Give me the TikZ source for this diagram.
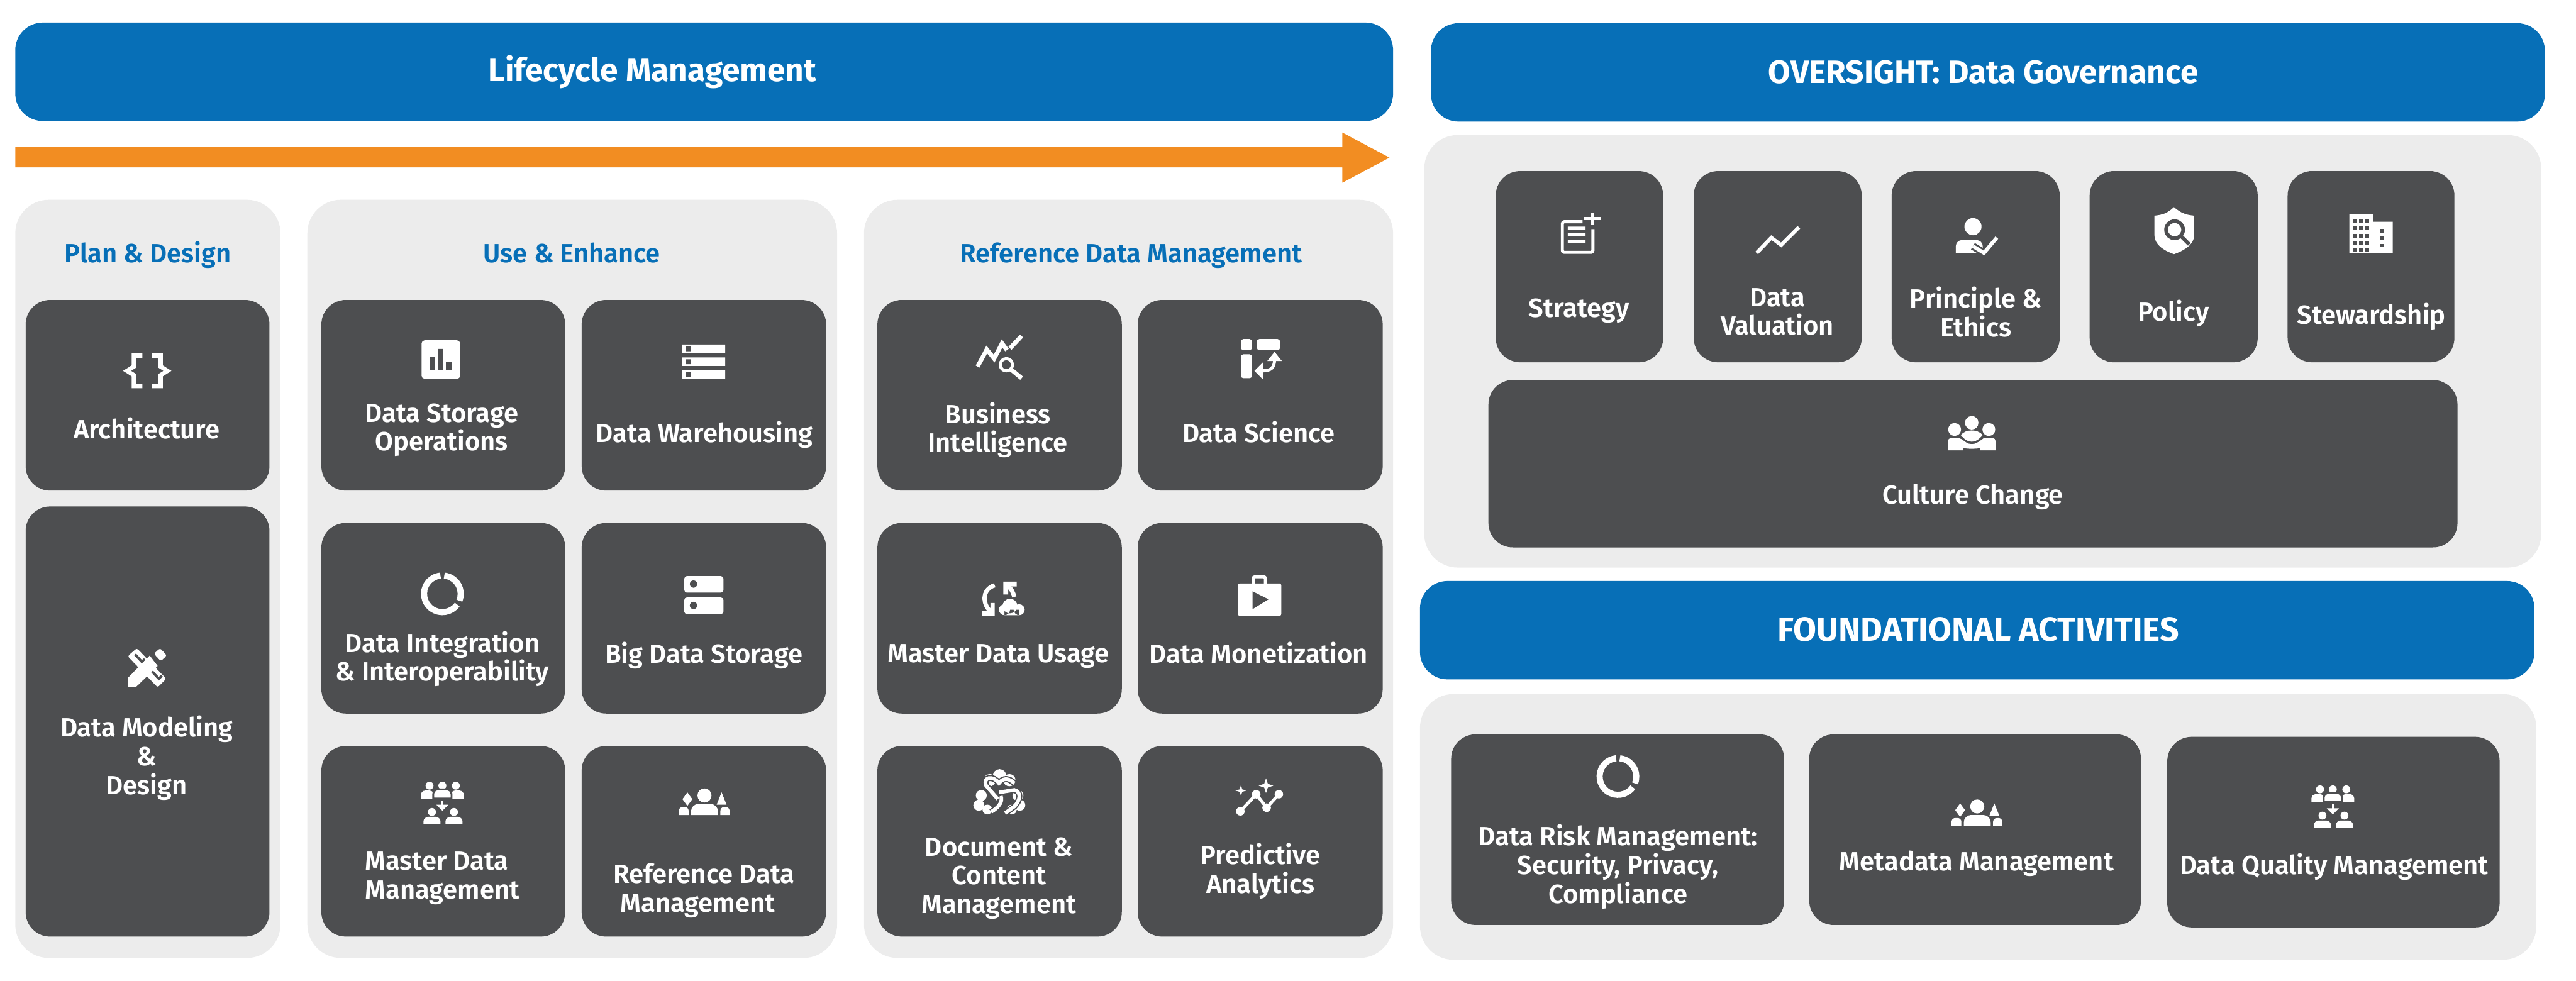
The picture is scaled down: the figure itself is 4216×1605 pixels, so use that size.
\documentclass[tikz,border=0pt]{standalone}
\usepackage{fontspec}
\setmainfont{Fira Sans SemiBold}
\newfontfamily\barfont{Fira Sans Bold}
\definecolor{barblue}{HTML}{076FB7}
\definecolor{arroworange}{HTML}{F28D22}
\definecolor{panelgray}{HTML}{ECECEC}
\definecolor{cardgray}{HTML}{4D4E50}
\tikzset{
  barbox/.style={fill=barblue, rounded corners=45pt},
  panelbox/.style={fill=panelgray, rounded corners=55pt},
  cardbox/.style={fill=cardgray, rounded corners=40pt},
  cardtext/.style={white, align=center, inner sep=0pt, yshift=-5pt, font=\fontsize{43}{47}\selectfont,
    execute at begin node=\strut, execute at end node=\strut},
  bartext/.style={white, inner sep=0pt, yshift=-5pt, font=\barfont\fontsize{53}{56}\selectfont, execute at begin node=\strut},
  headtext/.style={barblue, inner sep=0pt, yshift=-5pt, font=\fontsize{43}{47}\selectfont, execute at begin node=\strut},
  iconline/.style={draw=white, line width=7pt},
  % repeated icons
  ringicon/.pic={
    \draw[white, line width=10pt] (-84:30) arc (-84:22:30);
    \draw[white, line width=10pt] (36:30) arc (36:264:30);
  },
  peopleflow/.pic={
    \fill[white] (-21,7) circle (6.5) (0,7) circle (6.5) (22,7) circle (6.5);
    \fill[white] (-35,28) [rounded corners=7pt] -- (-35,15) -- (-14,15) [sharp corners] -- (-14,28) -- cycle;
    \fill[white] (14,28) [rounded corners=7pt] -- (14,15) -- (35,15) [sharp corners] -- (35,28) -- cycle;
    \fill[white, draw=cardgray, line width=3pt] (-15,28) [rounded corners=8pt] -- (-15,13) -- (15,13) [sharp corners] -- (15,28) -- cycle;
    \draw[white, line width=3pt] (0,31) -- (0,40);
    \fill[white] (-10,38) -- (10,38) -- (0,48) -- cycle;
    \fill[white] (-17,50) circle (6.5) (19,50) circle (6.5);
    \fill[white] (-31,70) [rounded corners=8pt] -- (-31,58) -- (-3,58) [sharp corners] -- (-3,70) -- cycle;
    \fill[white] (5,70) [rounded corners=8pt] -- (5,58) -- (33,58) [sharp corners] -- (33,70) -- cycle;
  },
  peopletrio/.pic={
    \fill[white] (0,-32) circle (11.5);
    \fill[white] (-22,0) [rounded corners=12pt] -- (-22,-18) -- (22,-18) [sharp corners] -- (22,0) -- cycle;
    \fill[white] (-28,-37) -- (-20,-26) -- (-28,-15) -- (-36,-26) -- cycle;
    \fill[white] (28,-37) -- (36,-17) -- (20,-17) -- cycle;
    \fill[white] (-42,0) [rounded corners=6pt] -- (-42,-13) -- (-26,-13) [sharp corners] -- (-26,0) -- cycle;
    \fill[white] (26,0) [rounded corners=6pt] -- (26,-13) -- (41,-13) [sharp corners] -- (41,0) -- cycle;
  },
}
\begin{document}
\begin{tikzpicture}[x=1pt, y=-1pt]
    \useasboundingbox (0,0) rectangle (4216,1605);
    % header bars
    \fill[barbox] (25,37) rectangle (2280,198);
    \node[bartext] (lifecycle) at (1068,115) {Lifecycle Management};
    \fill[barbox] (2342,38) rectangle (4165,199);
    \node[bartext] (oversight) at (3246,120) {OVERSIGHT: Data Governance};
    \fill[barbox] (2324,951) rectangle (4148,1112);
    \node[bartext, font=\barfont\fontsize{55}{56}\selectfont] (foundational) at (3238,1033) {FOUNDATIONAL ACTIVITIES};
    % lifecycle arrow
    \fill[arroworange] (25,241) -- (2197,241) -- (2197,217) -- (2274,258) -- (2197,299) -- (2197,274) -- (25,274) -- cycle;
    % grey panels
    \fill[panelbox] (25,327) rectangle (459,1568);
    \fill[panelbox] (503,327) rectangle (1370,1568);
    \fill[panelbox] (1414,327) rectangle (2280,1568);
    \fill[panelbox] (2331,221) rectangle (4159,929);
    \fill[panelbox] (2324,1136) rectangle (4151,1571);
    \node[headtext] (plan) at (242,415) {Plan \& Design};
    \node[headtext] (use) at (936,415) {Use \& Enhance};
    \node[headtext] (reference) at (1851,415) {Reference Data Management};
    % plan & design cards
    \fill[cardbox] (42,491) rectangle (441,803);
    \node[cardtext] (architecture) at (240,703) {Architecture};
    \draw[iconline] (233,582) -- (219,582) -- (219,600) -- (208,607) -- (219,614) -- (219,632) -- (233,632);
    \draw[iconline] (249,582) -- (263,582) -- (263,600) -- (274,607) -- (263,614) -- (263,632) -- (249,632);
    \fill[cardbox] (42,829) rectangle (441,1533);
    \node[cardtext] (modeling) at (240,1238) {Data Modeling\\\&\\Design};
    \fill[white, rounded corners=3pt] (209,1074) -- (224,1061) -- (272,1111) -- (258,1125) -- cycle;
    \draw[cardgray, line width=4pt] (221,1071) -- (232,1083) -- (237,1079);
    \draw[cardgray, line width=4pt] (248,1098) -- (260,1111) -- (265,1106);
    \fill[white] (209,1110) -- (209,1124) -- (223,1124) -- (258,1090) -- (245,1073) -- cycle;
    \fill[white, rounded corners=3pt] (252,1070) -- (262,1061) -- (273,1073) -- (263,1082) -- cycle;
    % use & enhance cards
    \fill[cardbox] (526,491) rectangle (925,803);
    \node[cardtext] (storage) at (723,701) {Data Storage\\Operations};
    \fill[white, rounded corners=5pt] (690,557) rectangle (753,620);
    \fill[cardgray] (704,584) rectangle (711,606) (717,571) rectangle (725,606) (730,592) rectangle (739,606);
    \fill[cardbox] (952,491) rectangle (1352,803);
    \node[cardtext] (warehousing) at (1153,709) {Data Warehousing};
    \fill[white] (1117,564) rectangle (1187,578) (1117,585) rectangle (1187,599) (1117,606) rectangle (1187,620);
    \fill[cardgray] (1123,567) rectangle (1131,575) (1123,588) rectangle (1131,596) (1123,609) rectangle (1131,617);
    \fill[cardbox] (526,856) rectangle (925,1168);
    \node[cardtext] (integration) at (724,1076) {Data Integration\\\& Interoperability};
    \pic (ringa) at (724,972) {ringicon};
    \fill[cardbox] (952,856) rectangle (1352,1168);
    \node[cardtext] (bigdata) at (1152,1070) {Big Data Storage};
    \fill[white, rounded corners=4pt] (1120,943) rectangle (1184,970) (1120,978) rectangle (1184,1005);
    \fill[cardgray] (1135,956) circle (6) (1135,991) circle (6);
    \fill[cardbox] (526,1221) rectangle (925,1533);
    \node[cardtext] (master) at (724,1435) {Master Data\kern18pt\\Management};
    \pic (flowa) at (724,1279) {peopleflow};
    \fill[cardbox] (952,1221) rectangle (1352,1533);
    \node[cardtext] (refmgmt) at (1152,1455) {Reference Data\\Management\kern20pt};
    \pic (trioa) at (1153,1334) {peopletrio};
    % reference data management cards
    \fill[cardbox] (1436,491) rectangle (1836,803);
    \node[cardtext] (business) at (1633,701) {Business\\Intelligence};
    \draw[iconline] (1600,600) -- (1615,572) -- (1627,587) -- (1640,562) -- (1648,573);
    \draw[iconline] (1653,570) -- (1672,550);
    \fill[cardgray] (1647,597) circle (16);
    \draw[iconline, line width=5pt] (1647,597) circle (10);
    \draw[iconline] (1655,605) -- (1672,619);
    \fill[cardbox] (1862,491) rectangle (2263,803);
    \node[cardtext] (science) at (2060,709) {Data Science};
    \fill[white, rounded corners=4pt] (2031,555) rectangle (2049,573) (2057,555) rectangle (2095,573) (2031,580) rectangle (2049,619);
    \draw[iconline, line width=5pt] (2086,588) .. controls (2086,602) and (2080,607) .. (2066,607);
    \fill[white] (2086,576) -- (2098,591) -- (2074,591) -- cycle;
    \fill[white] (2053,607) -- (2067,593) -- (2067,621) -- cycle;
    \fill[cardbox] (1436,856) rectangle (1836,1168);
    \node[cardtext] (usage) at (1634,1070) {Master Data Usage};
    \draw[iconline] (1628,958) .. controls (1605,965) and (1608,992) .. (1624,1003);
    \fill[white] (1607,1000) -- (1621,1000) -- (1621,987) -- (1628,987) -- (1628,1008) -- (1607,1008) -- cycle;
    \draw[iconline] (1647,957) .. controls (1655,963) and (1658,969) .. (1660,977);
    \fill[white] (1642,952) -- (1664,952) -- (1664,960) -- (1650,960) -- (1650,973) -- (1642,973) -- cycle;
    \fill[white] (1653,992) circle (12) (1644,998) circle (9) (1668,998) circle (9) (1644,998) rectangle (1668,1007);
    \fill[cardbox] (1862,856) rectangle (2263,1168);
    \node[cardtext] (monetization) at (2060,1070) {Data Monetization};
    \fill[white, rounded corners=3pt] (2026,955) rectangle (2097,1008);
    \draw[iconline, line width=5pt, rounded corners=3pt] (2051,956) -- (2051,944) -- (2071,944) -- (2071,956);
    \fill[cardgray] (2050,968) -- (2076,981) -- (2050,997) -- cycle;
    \fill[cardbox] (1436,1221) rectangle (1836,1533);
    \node[cardtext] (document) at (1635,1435) {Document \&\\Content\\Management};
    \fill[white] (1636,1270) circle (11) (1602,1318) circle (9) (1669,1318) circle (9) (1620,1277) circle (10) (1652,1277) circle (10) (1606,1302) circle (9) (1666,1302) circle (9) (1616,1325) circle (8) (1656,1325) circle (8);
    \draw[cardgray, line width=10pt] (1622,1329) .. controls (1634,1322) and (1642,1312) .. (1638,1303);
    \draw[white, line width=6pt] (1622,1329) .. controls (1634,1322) and (1642,1312) .. (1638,1303);
    \draw[cardgray, line width=10pt] (1635,1297) -- (1660,1293) .. controls (1672,1296) and (1670,1310) .. (1660,1320) -- (1645,1331);
    \draw[white, line width=6pt] (1635,1297) -- (1660,1293) .. controls (1672,1296) and (1670,1310) .. (1660,1320) -- (1645,1331);
    \draw[cardgray, line width=10pt] (1633,1308) -- (1614,1286) .. controls (1608,1272) and (1625,1268) .. (1635,1282) .. controls (1642,1272) and (1652,1274) .. (1660,1282);
    \draw[white, line width=6pt] (1633,1308) -- (1614,1286) .. controls (1608,1272) and (1625,1268) .. (1635,1282) .. controls (1642,1272) and (1652,1274) .. (1660,1282);
    \fill[cardbox] (1862,1221) rectangle (2263,1533);
    \node[cardtext] (predictive) at (2063,1423) {Predictive\\Analytics};
    \draw[iconline, line width=5pt] (2030,1328) -- (2056,1300) -- (2073,1322) -- (2093,1300);
    \fill[white] (2030,1328) circle (7) (2056,1300) circle (7) (2073,1322) circle (7) (2093,1300) circle (7);
    \fill[white] (2072,1274) -- (2075,1283) -- (2084,1286) -- (2075,1289) -- (2072,1298) -- (2069,1289) -- (2060,1286) -- (2069,1283) -- cycle;
    \fill[white] (2031,1285) -- (2033,1292) -- (2040,1294) -- (2033,1296) -- (2031,1303) -- (2029,1296) -- (2022,1294) -- (2029,1292) -- cycle;
    % oversight cards
    \fill[cardbox] (2448,280) rectangle (2722,593);
    \node[cardtext] (strategy) at (2584,505) {Strategy};
    \draw[iconline, line width=5pt, rounded corners=3pt] (2590,363) -- (2557,363) -- (2557,413) -- (2607,413) -- (2607,375);
    \fill[white] (2566,371) rectangle (2595,376) (2566,382) rectangle (2595,387) (2566,393) rectangle (2595,398);
    \draw[iconline, line width=5pt] (2593,358) -- (2620,358) (2606,349) -- (2606,368);
    \fill[cardbox] (2772,280) rectangle (3047,593);
    \node[cardtext] (valuation) at (2909,512) {Data\\Valuation};
    \draw[iconline, line width=6pt] (2875,414) -- (2899,389) -- (2915,401) -- (2944,372);
    \fill[cardbox] (3096,280) rectangle (3371,593);
    \node[cardtext] (principle) at (3234,512) {Principle \&\\Ethics};
    \fill[white] (3229,371) circle (14);
    \fill[white] (3201,414) [rounded corners=10pt] -- (3201,393) -- (3245,393) [sharp corners] -- (3245,414) -- cycle;
    \draw[cardgray, line width=12pt] (3229,403) -- (3247,414) -- (3268,389);
    \draw[iconline, line width=6pt] (3229,403) -- (3247,414) -- (3268,389);
    \fill[cardbox] (3420,280) rectangle (3695,593);
    \node[cardtext] (policy) at (3557,510) {Policy};
    \fill[white] (3558,339) .. controls (3570,350) and (3580,352) .. (3591,353) -- (3591,385) .. controls (3591,400) and (3575,410) .. (3558,416) .. controls (3541,410) and (3526,400) .. (3526,385) -- (3526,353) .. controls (3537,352) and (3547,350) .. (3558,339) -- cycle;
    \draw[cardgray, line width=6pt] (3559,376) circle (14) (3569,386) -- (3583,400);
    \fill[cardbox] (3744,280) rectangle (4017,593);
    \node[cardtext] (stewardship) at (3881,515) {Stewardship};
    \fill[white] (3845,351) rectangle (3884,414) (3884,363) rectangle (3916,414);
    \foreach \wx in {3851,3861,3871}
      \foreach \wy in {359,371,383,395,406}
        \fill[cardgray] (\wx,\wy) rectangle ++(6,6);
    \foreach \wy in {375,387,399}
      \fill[cardgray] (3895,\wy) rectangle ++(6,6);
    \fill[cardbox] (2436,622) rectangle (4022,896);
    \node[cardtext] (culture) at (3229,811) {Culture Change};
    \fill[white] (3227,692) circle (11) (3199,703) circle (10.5) (3255,703) circle (10.5);
    \fill[white] (3209,712) .. controls (3218,702) and (3236,702) .. (3245,712) .. controls (3238,720) and (3233,723) .. (3227,723) .. controls (3221,723) and (3216,720) .. (3209,712) -- cycle;
    \fill[white] (3188,737) [rounded corners=5pt] -- (3188,717) -- (3208,717) [sharp corners] .. controls (3215,722) and (3220,727) .. (3227,727) .. controls (3234,727) and (3240,722) .. (3247,717) [rounded corners=5pt] -- (3266,717) [sharp corners] -- (3266,737) -- (3241,737) -- (3241,733) .. controls (3236,735) and (3218,735) .. (3213,733) -- (3213,737) -- cycle;
    % foundational cards
    \fill[cardbox] (2375,1202) rectangle (2920,1514);
    \node[cardtext] (risk) at (2648,1416) {Data Risk Management:\\Security, Privacy,\\Compliance};
    \pic (ringb) at (2648,1271) {ringicon};
    \fill[cardbox] (2961,1202) rectangle (3504,1514);
    \node[cardtext] (metadata) at (3235,1411) {Metadata Management};
    \pic (triob) at (3236,1352) {peopletrio};
    \fill[cardbox] (3547,1206) rectangle (4091,1518);
    \node[cardtext] (quality) at (3820,1416) {Data Quality Management};
    \pic (flowb) at (3818,1285) {peopleflow};
\end{tikzpicture}
\end{document}
